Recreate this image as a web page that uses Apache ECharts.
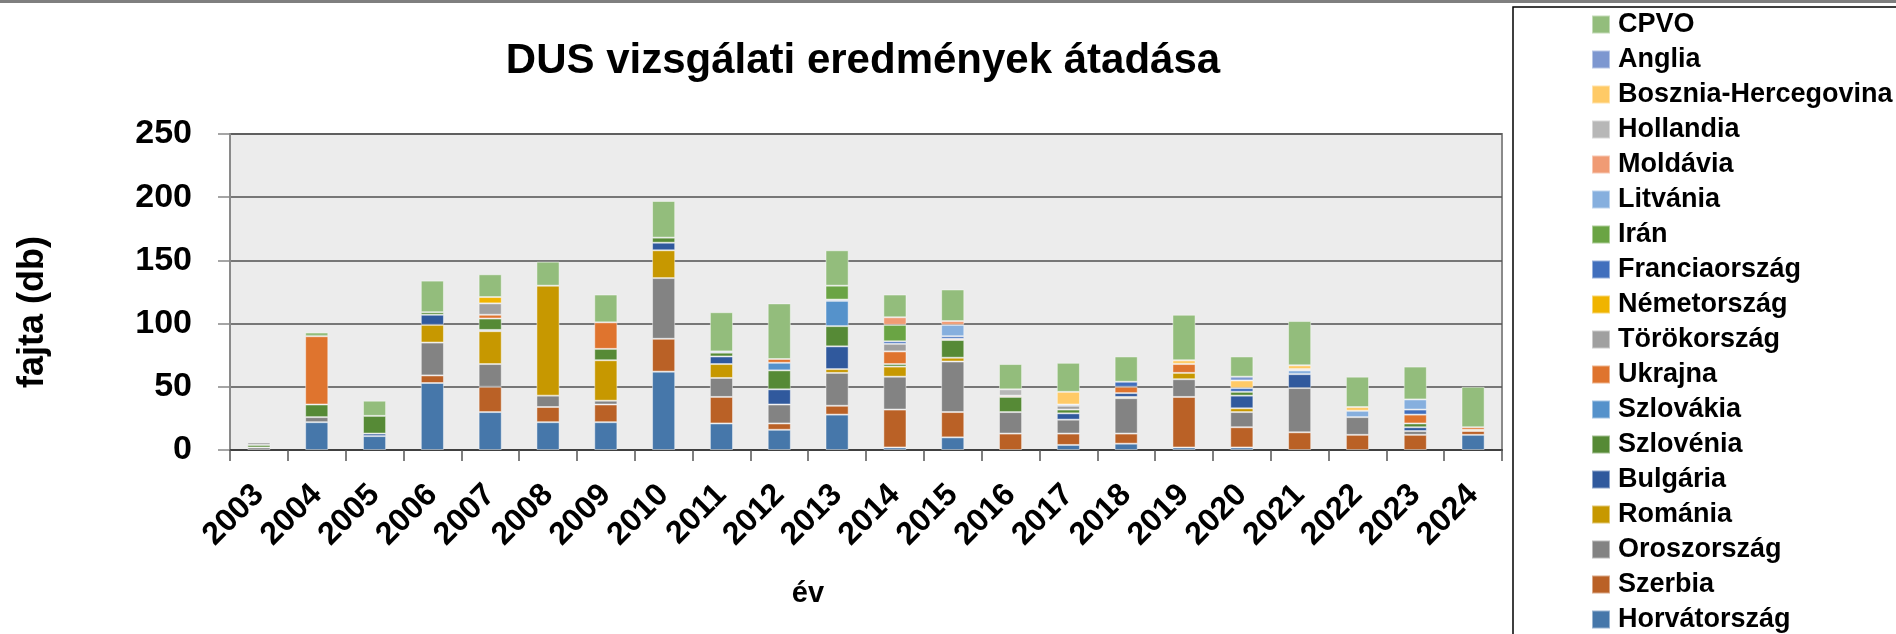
<!DOCTYPE html>
<html>
<head>
<meta charset="utf-8">
<script src="https://cdn.jsdelivr.net/npm/echarts@6/dist/echarts.min.js"></script>
<style>
html,body{margin:0;padding:0;background:#fff;}
#chart{width:1896px;height:634px;}
</style>
</head>
<body>
<div id="chart"></div>
<script>
const years = ['2003','2004','2005','2006','2007','2008','2009','2010','2011','2012','2013','2014','2015','2016','2017','2018','2019','2020','2021','2022','2023','2024'];
const yTicks = [0, 50, 100, 150, 200, 250];

// values per country (stack order bottom -> top), years 2003..2024
const horvatorszag   = [0,22,11,53,30,22,22,62,21,16,28, 2,10, 0, 4, 5, 2, 2, 0, 0, 0,12];
const szerbia        = [0, 0, 0, 6,20,12,14,26,21, 5, 7,30,20,13, 9, 8,40,16,14,12,12, 3];
const oroszorszag    = [2, 4, 0,26,18, 9, 3,48,15,15,26,26,40,17,11,28,14,12,35,14, 3, 0];
const romania        = [0, 0, 0,14,26,87,32,22,11, 0, 3, 8, 3, 0, 0, 1, 5, 3, 0, 0, 0, 1];
const bulgaria       = [0, 0, 2, 8, 1, 0, 0, 6, 6,12,18, 0, 0, 0, 5, 3, 0,10,11, 0, 3, 0];
const szlovenia      = [2,10,14, 2, 9, 0, 9, 4, 3,15,16, 2,14,12, 3, 0, 0, 3, 0, 0, 3, 0];
const szlovakia      = [0, 0, 0, 0, 0, 0, 0, 0, 0, 6,20, 0, 0, 0, 0, 0, 0, 0, 0, 0, 0, 0];
const ukrajna        = [0,54, 0, 0, 3, 0,21, 0, 0, 3, 0,10, 1, 1, 0, 5, 7, 0, 0, 0, 7, 2];
const torokorszag    = [2, 0, 0, 0, 9, 0, 0, 0, 0, 0, 0, 6, 0, 0, 3, 0, 0, 0, 0, 0, 0, 0];
const nemetorszag    = [0, 0, 0, 0, 5, 0, 0, 0, 0, 0, 0, 0, 0, 0, 0, 0, 0, 0, 0, 0, 0, 0];
const franciaorszag  = [0, 0, 0, 0, 0, 0, 0, 0, 1, 0, 1, 2, 2, 0, 1, 4, 0, 3, 0, 0, 4, 0];
const iran           = [0, 0, 0, 0, 0, 0, 0, 0, 0, 0,11,13, 0, 0, 0, 0, 0, 0, 0, 0, 0, 0];
const litvania       = [0, 0, 0, 0, 0, 0, 0, 0, 0, 0, 0, 0, 9, 0, 0, 0, 0, 0, 3, 5, 8, 0];
const moldavia       = [0, 0, 0, 0, 0, 0, 0, 0, 0, 0, 0, 6, 3, 0, 0, 0, 0, 0, 1, 0, 0, 0];
const hollandia      = [0, 0, 0, 0, 0, 0, 0, 0, 0, 0, 0, 0, 0, 5, 0, 0, 0, 0, 0, 0, 0, 0];
const boszniaHerceg  = [0, 0, 0, 0, 0, 0, 0, 0, 0, 0, 0, 0, 0, 0,10, 0, 3, 6, 3, 3, 0, 0];
const anglia         = [0, 0, 0, 0, 0, 0, 0, 0, 0, 0, 0, 0, 0, 0, 0, 0, 0, 3, 0, 0, 0, 0];
const cpvo           = [0, 3,12,25,18,19,22,29,31,44,28,18,25,20,23,20,36,16,35,24,26,32];

const seriesDefs = [
  ['Horvátország', horvatorszag, '#4677AA'],
  ['Szerbia', szerbia, '#BA6126'],
  ['Oroszország', oroszorszag, '#838383'],
  ['Románia', romania, '#C79800'],
  ['Bulgária', bulgaria, '#30599D'],
  ['Szlovénia', szlovenia, '#568A36'],
  ['Szlovákia', szlovakia, '#5592CB'],
  ['Ukrajna', ukrajna, '#DF742E'],
  ['Törökország', torokorszag, '#A0A0A0'],
  ['Németország', nemetorszag, '#F0B400'],
  ['Franciaország', franciaorszag, '#416FBD'],
  ['Irán', iran, '#6AA444'],
  ['Litvánia', litvania, '#86AFDE'],
  ['Moldávia', moldavia, '#F09B74'],
  ['Hollandia', hollandia, '#B7B7B7'],
  ['Bosznia-Hercegovina', boszniaHerceg, '#FFCA66'],
  ['Anglia', anglia, '#7D97D0'],
  ['CPVO', cpvo, '#93BD7C']
];

const FONT = '"Liberation Sans", Arial, sans-serif';
const chart = echarts.init(document.getElementById('chart'), null, {renderer: 'canvas'});

const option = {
  animation: false,
  backgroundColor: '#ffffff',
  title: {
    text: 'DUS vizsgálati eredmények átadása',
    left: 858,
    top: 35,
    textAlign: 'center',
    textStyle: {fontFamily: FONT, fontWeight: 'bold', fontSize: 42, color: '#000'}
  },
  grid: {
    left: 230, right: 394, top: 134, bottom: 184,
    show: true, backgroundColor: '#ECECEC', borderColor: '#8a8a8a', borderWidth: 2
  },
  legend: {
    orient: 'vertical',
    left: 1591,
    top: 11,
    height: 640,
    padding: 0,
    icon: 'rect',
    itemWidth: 18,
    itemHeight: 18,
    itemGap: 8,
    data: seriesDefs.map(d => d[0]).reverse(),
    textStyle: {fontFamily: FONT, fontWeight: 'bold', fontSize: 27, lineHeight: 27, color: '#000', padding: [0,0,0,3]}
  },
  xAxis: {
    type: 'category',
    data: years,
    axisLine: {lineStyle: {color: '#404040', width: 2}},
    axisTick: {show: true, length: 11, lineStyle: {color: '#555', width: 1.5}},
    axisLabel: {interval: 0, rotate: 45, margin: 40, fontFamily: FONT, fontWeight: 'bold', fontSize: 32, color: '#000'},
    splitLine: {show: false}
  },
  yAxis: {
    type: 'value',
    min: yTicks[0],
    max: yTicks[yTicks.length - 1],
    interval: 50,
    axisLine: {show: true, lineStyle: {color: '#8a8a8a', width: 2}},
    axisTick: {show: true, length: 12, lineStyle: {color: '#888', width: 1.5}},
    axisLabel: {margin: 38, fontFamily: FONT, fontWeight: 'bold', fontSize: 34, color: '#000'},
    splitLine: {lineStyle: {color: '#505050', width: 1.5}}
  },
  graphic: [
    {type: 'rect', shape: {x: 0, y: 0, width: 1896, height: 3}, style: {fill: '#7f7f7f'}},
    {type: 'rect', shape: {x: 1513, y: 7, width: 400, height: 660}, style: {fill: 'none', stroke: '#000', lineWidth: 1.5}},
    {type: 'text', x: 33, y: 312, rotation: Math.PI / 2,
      style: {text: 'fajta (db)', fontFamily: FONT, fontWeight: 'bold', fontSize: 36, fill: '#000', textAlign: 'center', textVerticalAlign: 'middle'}},
    {type: 'text', x: 808, y: 594,
      style: {text: 'év', fontFamily: FONT, fontWeight: 'bold', fontSize: 29, fill: '#000', textAlign: 'center', textVerticalAlign: 'middle'}}
  ],
  series: seriesDefs.map(d => ({
    name: d[0],
    type: 'bar',
    stack: 'total',
    barWidth: '40%',
    data: d[1].map(v => v === 0 ? '-' : v),
    itemStyle: {color: d[2], borderColor: 'rgba(255,255,255,0.45)', borderWidth: 1}
  }))
};
chart.setOption(option);
</script>
</body>
</html>
